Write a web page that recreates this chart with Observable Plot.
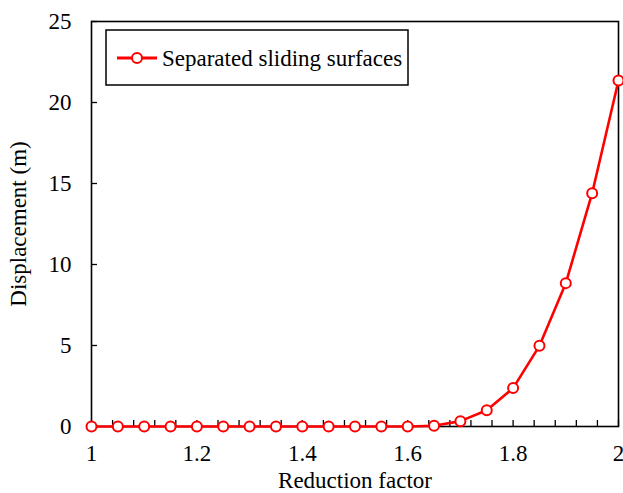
<!DOCTYPE html>
<html>
<head>
<meta charset="utf-8">
<script src="https://cdn.jsdelivr.net/npm/d3@7"></script>
<script src="https://cdn.jsdelivr.net/npm/@observablehq/plot@0.6"></script>
<style>
  html, body { margin: 0; padding: 0; background: #fff; }
  #chart svg { display: block; }
</style>
</head>
<body>
<div id="chart"></div>
<script>
// Reduction factor (x) and displacement in metres (y)
const reductionFactor = [1.00, 1.05, 1.10, 1.15, 1.20, 1.25, 1.30, 1.35, 1.40, 1.45, 1.50,
                         1.55, 1.60, 1.65, 1.70, 1.75, 1.80, 1.85, 1.90, 1.95, 2.00];
const displacement    = [0, 0, 0, 0, 0, 0, 0, 0, 0, 0, 0,
                         0, 0, 0.05, 0.33, 1.0, 2.37, 4.98, 8.85, 14.4, 21.36];
const seriesName = "Separated sliding surfaces";

const xTickLabels = [1, 1.2, 1.4, 1.6, 1.8, 2];
const xMinorTicks = d3.range(0, 26).map(i => 1 + i * 0.04);
const yTickLabels = [0, 5, 10, 15, 20, 25];

const data = reductionFactor.map((x, i) => ({x, y: displacement[i]}));

const font = "'Liberation Serif', 'Times New Roman', serif";
const fs = 23;
const red = "#ff0000";

const chart = Plot.plot({
  width: 623,
  height: 493,
  marginLeft: 91,
  marginRight: 5,
  marginTop: 21,
  marginBottom: 67,
  style: {fontFamily: font, fontSize: fs + "px", color: "#000", background: "#fff"},
  x: {domain: [1, 2]},
  y: {domain: [0, 25]},
  marks: [
    Plot.frame({stroke: "#000", strokeWidth: 1.6}),
    // inward tick marks
    Plot.axisX(xMinorTicks, {tickSize: -6, text: null, label: null, stroke: "#000", strokeWidth: 1.3}),
    Plot.axisY(yTickLabels, {tickSize: -6, text: null, label: null, stroke: "#000", strokeWidth: 1.3}),
    // tick labels and titles
    Plot.axisX(xTickLabels, {tickSize: 0, tickPadding: 18, tickFormat: d => String(d),
      label: "Reduction factor", labelAnchor: "center", labelArrow: "none", labelOffset: 61,
      fontSize: fs}),
    Plot.axisY(yTickLabels, {tickSize: 0, tickPadding: 20, tickFormat: d => String(d),
      label: "Displacement (m)", labelAnchor: "center", labelArrow: "none", labelOffset: 82,
      fontSize: fs}),
    Plot.line(data, {x: "x", y: "y", stroke: red, strokeWidth: 2.6}),
    Plot.dot(data, {x: "x", y: "y", r: 5, fill: "#fff", stroke: red, strokeWidth: 2})
  ]
});

document.getElementById("chart").append(chart);

// Legend box inside the plot area (top-left)
const svg = d3.select(chart);
const lg = svg.append("g").attr("transform", "translate(106,30)");
lg.append("rect").attr("width", 302).attr("height", 55)
  .attr("fill", "#fff").attr("stroke", "#000").attr("stroke-width", 1.5);
lg.append("path").attr("d", "M11,28H51")
  .attr("fill", "none").attr("stroke", red).attr("stroke-width", 2.8);
lg.append("circle").attr("cx", 31).attr("cy", 28).attr("r", 5)
  .attr("fill", "#fff").attr("stroke", red).attr("stroke-width", 2);
lg.append("text").attr("x", 56).attr("y", 28).attr("dy", "0.35em")
  .attr("text-anchor", "start")
  .attr("font-family", font).attr("font-size", fs).attr("fill", "#000")
  .text(seriesName);
</script>
</body>
</html>
